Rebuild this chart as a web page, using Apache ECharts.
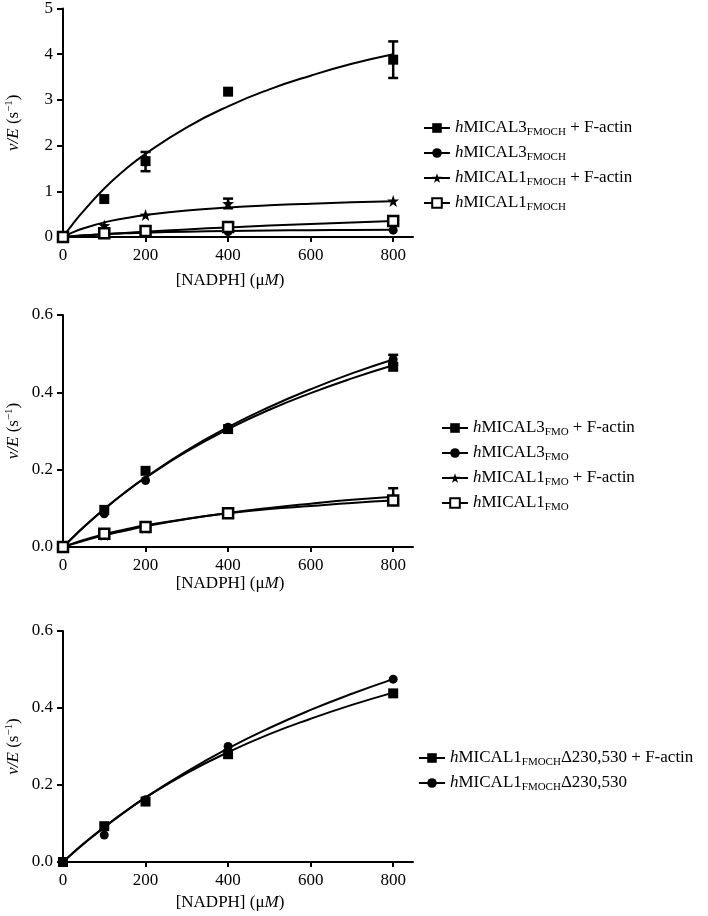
<!DOCTYPE html>
<html>
<head>
<meta charset="utf-8">
<script src="https://cdn.jsdelivr.net/npm/echarts@6/dist/echarts.min.js"></script>
<style>
html,body{margin:0;padding:0;background:#fff;}
#c{width:708px;height:916px;}
</style>
</head>
<body>
<div id="c"></div>
<script>
// ---------- DATA ----------
var xTicks = [0, 200, 400, 600, 800];
var curveX = [0, 25, 50, 100, 150, 200, 300, 400, 500, 600, 700, 800];

// Panel A (FMOCH)
var aM3F_pts = [[0,0],[100,0.83],[200,1.66],[400,3.18],[800,3.88]];
var aM3F_err = [[200,1.44,1.86],[800,3.48,4.28]];
var aM3F_fit = [0,0.30,0.57,1.06,1.47,1.82,2.40,2.86,3.23,3.53,3.79,4.00];
var aM3_pts = [[0,0],[100,0.06],[200,0.10],[400,0.12],[800,0.15]];
var aM3_fit = [0,0.02,0.036,0.061,0.080,0.095,0.116,0.130,0.141,0.149,0.155,0.160];
var aM1F_pts = [[0,0],[100,0.25],[200,0.48],[400,0.73],[800,0.79]];
var aM1F_err = [[400,0.63,0.84]];
var aM1F_fit = [0,0.105,0.19,0.32,0.41,0.48,0.58,0.646,0.694,0.73,0.758,0.78];
var aM1_pts = [[0,0],[100,0.08],[200,0.13],[400,0.22],[800,0.35]];
var aM1_fit = [0,0.016,0.032,0.062,0.090,0.117,0.166,0.21,0.25,0.286,0.32,0.35];

// Panel B (FMO)
var bM3F_pts = [[0,0],[100,0.096],[200,0.197],[400,0.305],[800,0.466]];
var bM3F_fit = [0,0.026,0.052,0.098,0.141,0.179,0.247,0.305,0.355,0.398,0.436,0.470];
var bM3_pts = [[0,0],[100,0.086],[200,0.172],[400,0.31],[800,0.485]];
var bM3_err = [[800,0.472,0.497]];
var bM3_fit = [0,0.026,0.051,0.098,0.141,0.180,0.250,0.310,0.362,0.408,0.449,0.485];
var bM1F_pts = [[0,0],[100,0.031],[200,0.050],[400,0.088],[800,0.130]];
var bM1F_err = [[800,0.110,0.152]];
var bM1F_fit = [0,0.008,0.016,0.030,0.042,0.0535,0.0725,0.088,0.101,0.112,0.122,0.130];
var bM1_pts = [[0,0],[100,0.034],[200,0.052],[400,0.087],[800,0.120]];
var bM1_fit = [0,0.0094,0.018,0.033,0.045,0.056,0.073,0.087,0.098,0.106,0.114,0.120];

// Panel C (FMOCH delta230,530)
var cF_pts = [[0,0],[100,0.093],[200,0.157],[400,0.28],[800,0.438]];
var cF_fit = [0,0.0246,0.048,0.091,0.131,0.167,0.231,0.285,0.332,0.372,0.408,0.440];
var c_pts = [[0,0],[100,0.07],[200,0.162],[400,0.30],[800,0.475]];
var c_fit = [0,0.024,0.047,0.090,0.130,0.168,0.235,0.295,0.348,0.395,0.437,0.475];

// ---------- STYLE ----------
var FONT = 'Liberation Serif';
var STAR = 'path://M0,-10L2.35,-3.24L9.51,-3.09L3.8,1.24L5.88,8.09L0,4L-5.88,8.09L-3.8,1.24L-9.51,-3.09L-2.35,-3.24Z';
var sym = {
  sq:   {symbol:'rect', size:10, item:{color:'#000', opacity:1}},
  ci:   {symbol:'circle', size:9, item:{color:'#000', opacity:1}},
  st:   {symbol:STAR, size:12, item:{color:'#000', opacity:1}},
  osq:  {symbol:'rect', size:10, item:{color:'#fff', borderColor:'#000', borderWidth:2.5, opacity:1}}
};

var labels = {
  aM3F: '{i|h}MICAL3{s|FMOCH} + F-actin',
  aM3:  '{i|h}MICAL3{s|FMOCH}',
  aM1F: '{i|h}MICAL1{s|FMOCH} + F-actin',
  aM1:  '{i|h}MICAL1{s|FMOCH}',
  bM3F: '{i|h}MICAL3{s|FMO} + F-actin',
  bM3:  '{i|h}MICAL3{s|FMO}',
  bM1F: '{i|h}MICAL1{s|FMO} + F-actin',
  bM1:  '{i|h}MICAL1{s|FMO}',
  cF:   '{i|h}MICAL1{s|FMOCH}Δ230,530 + F-actin',
  c:    '{i|h}MICAL1{s|FMOCH}Δ230,530'
};

var richText = {
  i: {fontFamily:FONT, fontSize:17, fontStyle:'italic', color:'#000', lineHeight:20, verticalAlign:'middle'},
  s: {fontFamily:FONT, fontSize:11, color:'#000', lineHeight:20, verticalAlign:'bottom', padding:[9,0,0,0]}
};

function zipCurve(ys){ return curveX.map(function(x,i){ return [x, ys[i]]; }); }

var series = [];
function addSet(name, gi, pts, fit, s, err){
  series.push({
    name:name, type:'line', xAxisIndex:gi, yAxisIndex:gi,
    data: zipCurve(fit), smooth:true, showSymbol:false,
    symbol:s.symbol, symbolSize:s.size, itemStyle:s.item,
    lineStyle:{color:'#000', width:2}, z:2, silent:true
  });
  series.push({
    name:name, type:'scatter', xAxisIndex:gi, yAxisIndex:gi,
    data: pts, symbol:s.symbol, symbolSize:s.size, itemStyle:s.item, z:4
  });
  if (err){
    series.push({
      name:name+'_err', type:'custom', xAxisIndex:gi, yAxisIndex:gi,
      data: err, encode:{x:0, y:[1,2]}, z:3,
      renderItem:function(params, api){
        var x = api.value(0);
        var p1 = api.coord([x, api.value(1)]);
        var p2 = api.coord([x, api.value(2)]);
        var w = 5;
        var st = {stroke:'#000', lineWidth:2.5, fill:null};
        return {type:'group', children:[
          {type:'line', shape:{x1:p1[0], y1:p1[1], x2:p2[0], y2:p2[1]}, style:st},
          {type:'line', shape:{x1:p1[0]-w, y1:p1[1], x2:p1[0]+w, y2:p1[1]}, style:st},
          {type:'line', shape:{x1:p2[0]-w, y1:p2[1], x2:p2[0]+w, y2:p2[1]}, style:st}
        ]};
      }
    });
  }
}

addSet('aM3F',0,aM3F_pts,aM3F_fit,sym.sq,aM3F_err);
addSet('aM3',0,aM3_pts,aM3_fit,sym.ci);
addSet('aM1F',0,aM1F_pts,aM1F_fit,sym.st,aM1F_err);
addSet('aM1',0,aM1_pts,aM1_fit,sym.osq);
addSet('bM3F',1,bM3F_pts,bM3F_fit,sym.sq);
addSet('bM3',1,bM3_pts,bM3_fit,sym.ci,bM3_err);
addSet('bM1F',1,bM1F_pts,bM1F_fit,sym.st,bM1F_err);
addSet('bM1',1,bM1_pts,bM1_fit,sym.osq);
addSet('cF',2,cF_pts,cF_fit,sym.sq);
addSet('c',2,c_pts,c_fit,sym.ci);

var axisLine = {show:true, onZero:false, lineStyle:{color:'#000', width:2}};
var axisTick = {show:true, inside:false, length:6, lineStyle:{color:'#000', width:2}};
var labelStyle = {fontFamily:FONT, fontSize:17, color:'#000'};

function xAx(gi, gap){
  return {
    type:'value', gridIndex:gi, min:0, max:848,
    axisLine:axisLine,
    axisTick:Object.assign({customValues:xTicks}, axisTick, {length:5}),
    axisLabel:Object.assign({customValues:xTicks, margin:10}, labelStyle),
    splitLine:{show:false},
    name:'[NADPH] (μ{it|M})', nameLocation:'middle', nameGap:gap,
    nameTextStyle:{fontFamily:FONT, fontSize:17, color:'#000', padding:[0,16,0,0],
      rich:{it:{fontFamily:FONT, fontSize:17, fontStyle:'italic', color:'#000'}}}
  };
}
function yAx(gi, max, interval, dec){
  return {
    type:'value', gridIndex:gi, min:0, max:max, interval:interval,
    axisLine:axisLine, axisTick:axisTick,
    axisLabel:Object.assign({margin:10, formatter:function(v){ return v.toFixed(dec); }}, labelStyle),
    splitLine:{show:false},
    name:'{it|v/E} (s{sup|−1})', nameLocation:'middle', nameRotate:90, nameGap:40,
    nameTextStyle:{fontFamily:FONT, fontSize:17, color:'#000',
      rich:{
        it:{fontFamily:FONT, fontSize:17, fontStyle:'italic', color:'#000'},
        sup:{fontFamily:FONT, fontSize:11, color:'#000', verticalAlign:'top', padding:[0,0,8,0]}
      }}
  };
}

function legend(names, left, top){
  return {
    orient:'vertical', left:left, top:top, data:names,
    itemWidth:26, itemHeight:12, itemGap:5,
    formatter:function(n){ return labels[n]; },
    textStyle:{fontFamily:FONT, fontSize:17, color:'#000', rich:richText},
    selectedMode:false
  };
}

var option = {
  backgroundColor:'#fff',
  animation:false,
  textStyle:{fontFamily:FONT},
  grid:[
    {left:63, width:350, top:7, height:230},
    {left:63, width:350, top:315, height:232},
    {left:63, width:350, top:631, height:231}
  ],
  xAxis:[xAx(0,35), xAx(1,24), xAx(2,32)],
  yAxis:[yAx(0,5,1,0), yAx(1,0.6,0.2,1), yAx(2,0.6,0.2,1)],
  legend:[
    legend(['aM3F','aM3','aM1F','aM1'], 418, 113),
    legend(['bM3F','bM3','bM1F','bM1'], 436, 413),
    legend(['cF','c'], 413, 743)
  ],
  series:series
};

var chart = echarts.init(document.getElementById('c'), null, {renderer:'canvas'});
chart.setOption(option);
</script>
</body>
</html>
